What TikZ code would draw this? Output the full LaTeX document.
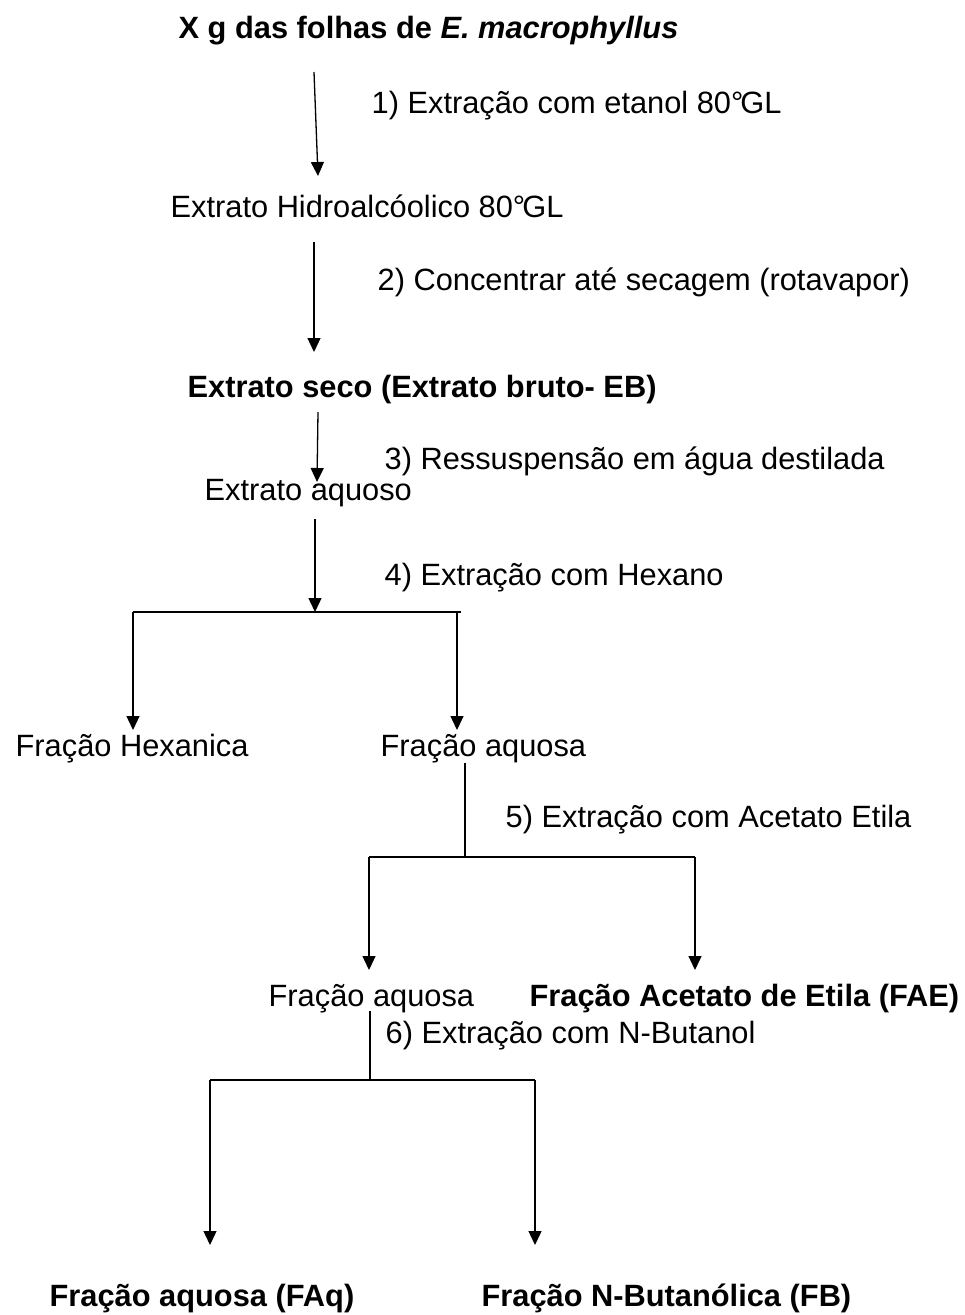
\documentclass[tikz,border=0pt]{standalone}
\usepackage{fontspec}
\setmainfont{Liberation Sans}
\usetikzlibrary{arrows.meta}

\begin{document}
\begin{tikzpicture}[x=1pt,y=-1pt,>={Triangle[width=13pt,length=14pt]},line width=1.3pt,
  txt/.style={anchor=base west,inner sep=0pt,font=\fontsize{30.8}{36}\selectfont},
  boldtxt/.style={anchor=base west,inner sep=0pt,font=\fontsize{30.8}{36}\selectfont\bfseries}]

            \useasboundingbox (0,0) rectangle (965,1315);

            % materials and steps
            \node[boldtxt] (folhas) at (178,38) {X g das folhas de \textit{E. macrophyllus}};
            \node[txt] (passo1) at (371,113) {1) Extração com etanol 80°\kern-3ptGL};
            \node[txt] (hidro) at (170,217) {Extrato Hidroalcóolico 80°\kern-3ptGL};
            \node[txt] (passo2) at (377,290) {2) Concentrar até secagem (rotavapor)};
            \node[boldtxt] (seco) at (187,397) {Extrato seco (Extrato bruto- EB)};
            \node[txt] (passo3) at (384,469) {3) Ressuspensão em água destilada};
            \node[txt] (aquoso) at (204,500) {Extrato aquoso};
            \node[txt] (passo4) at (384,585) {4) Extração com Hexano};
            \node[txt] (hexanica) at (15,756) {Fração Hexanica};
            \node[txt] (aquosa1) at (380,756) {Fração aquosa};
            \node[txt] (passo5) at (505,827) {5) Extração com Acetato Etila};
            \node[txt] (aquosa2) at (268,1006) {Fração aquosa};
            \node[boldtxt] (fae) at (529,1006) {Fração Acetato de Etila (FAE)};
            \node[txt] (passo6) at (385,1043) {6) Extração com N-Butanol};
            \node[boldtxt] (faq) at (49,1306) {Fração aquosa (FAq)};
            \node[boldtxt] (fb) at (481,1306) {Fração N-Butanólica (FB)};

            % junctions
            \coordinate (j1) at (315,612);
            \coordinate (j1l) at (133,612);
            \coordinate (j1r) at (461,612);
            \coordinate (j2) at (465,857);
            \coordinate (j2l) at (369,857);
            \coordinate (j2r) at (695,857);
            \coordinate (j3) at (370,1080);
            \coordinate (j3l) at (210,1080);
            \coordinate (j3r) at (535,1080);

            \draw[->] (314,72) to (318,176);
            \draw[->] (314,242) to (314,352);
            \draw[->] (318,412) to (317,482);
            \draw[->] (315,519) to (j1);
            \draw[-] (j1l) to (j1r);
            \draw[->] (j1l) to (133,730);
            \draw[->] (457,612) to (457,730);
            \draw[-] (465,763) to (j2);
            \draw[-] (j2l) to (j2r);
            \draw[->] (j2l) to (369,970);
            \draw[->] (j2r) to (695,970);
            \draw[-] (370,1011) to (j3);
            \draw[-] (j3l) to (j3r);
            \draw[->] (j3l) to (210,1245);
            \draw[->] (j3r) to (535,1245);

            ;
        \end{tikzpicture}
\end{document}
